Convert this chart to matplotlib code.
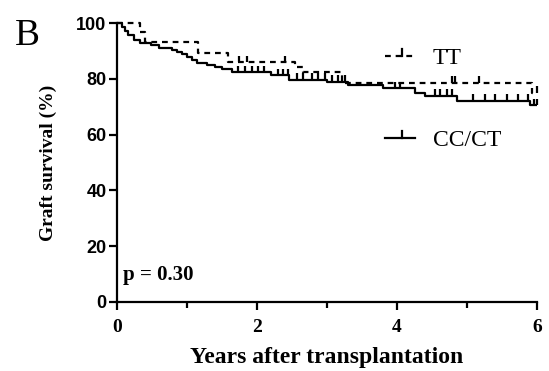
import numpy as np
import matplotlib
matplotlib.use("Agg")
import matplotlib.pyplot as plt
from matplotlib.ticker import MultipleLocator

# ---- data ----
cc_times = [0, 0.07, 0.12, 0.16, 0.24, 0.33, 0.48, 0.60, 0.79, 0.86, 0.93, 1.00, 1.07,
            1.14, 1.29, 1.40, 1.50, 1.64, 2.20, 2.45, 3.00, 3.30, 3.80, 4.25, 4.40,
            4.85, 5.90]
cc_surv = [100, 98.5, 97.0, 95.7, 94.0, 92.7, 92.0, 91.2, 90.4, 89.6, 88.8, 87.9, 86.8,
           85.8, 85.0, 84.2, 83.5, 82.3, 81.2, 79.6, 78.8, 77.8, 76.6, 75.0, 73.8,
           72.0, 70.5]
cc_censor = [1.73, 1.83, 1.93, 2.02, 2.10, 2.30, 2.37, 2.44, 2.57, 2.66, 2.79, 2.87,
             2.97, 3.07, 3.16, 3.26, 3.97, 4.04, 4.54, 4.61, 4.71, 4.79, 5.09, 5.26,
             5.40, 5.57, 5.73, 5.87, 5.95, 6.0]

tt_times = [0, 0.33, 0.40, 1.16, 1.59, 2.54, 2.66, 3.22, 5.93]
tt_surv = [100, 96.9, 93.3, 89.3, 85.9, 84.2, 82.4, 78.6, 75.0]
tt_censor = [1.74, 1.86, 2.40, 4.78, 4.83, 5.17, 6.0]

follow_up_end = 6.0
xticks_major = [0, 2, 4, 6]
yticks = [0, 20, 40, 60, 80, 100]
p_text = "p = 0.30"
series_names = ["TT", "CC/CT"]

SERIF = "Liberation Serif"
SANS = "Liberation Sans"

fig = plt.figure(figsize=(5.49, 3.71), dpi=100)
ax = fig.add_axes([117 / 549, 1 - 302 / 371, 420 / 549, 279 / 371])

lw = 1.6
tick_h = 2.4


def km(times, surv, censor, dashed):
    t = list(times) + [follow_up_end]
    s = list(surv) + [surv[-1]]
    ls = (0, (2.6, 2.2)) if dashed else "-"
    ax.step(t, s, where="post", color="black", lw=lw, linestyle=ls,
            solid_capstyle="butt", dash_capstyle="butt", clip_on=False)
    idx = np.searchsorted(np.array(times), np.array(censor), side="right") - 1
    ys = np.array(surv)[idx]
    ax.vlines(censor, ys, ys + tick_h, color="black", lw=lw, clip_on=False)


km(tt_times, tt_surv, tt_censor, True)
km(cc_times, cc_surv, cc_censor, False)

ax.set_xlim(0, 6)
ax.set_ylim(0, 100)
for side in ["top", "right"]:
    ax.spines[side].set_visible(False)
for side in ["left", "bottom"]:
    ax.spines[side].set_linewidth(1.6)

ax.set_xticks(xticks_major)
ax.xaxis.set_minor_locator(MultipleLocator(1))
ax.set_yticks(yticks)
ax.tick_params(axis="both", which="major", direction="out", length=6, width=1.6)
ax.tick_params(axis="x", which="minor", direction="out", length=4, width=1.6)
ax.tick_params(axis="y", pad=1.5)
ax.tick_params(axis="x", pad=6)

for lab in ax.get_yticklabels():
    lab.set_fontfamily(SANS)
    lab.set_fontweight("bold")
    lab.set_fontsize(13)
for lab in ax.get_xticklabels():
    lab.set_fontfamily(SERIF)
    lab.set_fontweight("bold")
    lab.set_fontsize(14)

ax.set_xlabel("Years after transplantation", fontfamily=SERIF, fontweight="bold",
              fontsize=17)
ax.set_ylabel("Graft survival (%)", fontfamily=SERIF, fontweight="bold",
              fontsize=14)
ax.xaxis.set_label_coords(0.5, -0.160)
ax.yaxis.set_label_coords(-0.143, 0.5)

ax.text(0.014, 0.06, p_text, transform=ax.transAxes, fontfamily=SERIF,
        fontweight="bold", fontsize=15, ha="left", va="bottom")

fig.text(15 / 549, 1 - 45 / 371, "B", fontfamily=SERIF, fontsize=27,
         ha="left", va="baseline")

# manual legend
leg_x0, leg_x1 = 0.638, 0.710
for name, yax, dashed in [(series_names[0], 0.882, True), (series_names[1], 0.588, False)]:
    ls = (0, (2.6, 2.2)) if dashed else "-"
    ax.plot([leg_x0, leg_x1], [yax, yax], transform=ax.transAxes, color="black",
            lw=lw, linestyle=ls, clip_on=False)
    xm = (leg_x0 + leg_x1) / 2 + 0.005
    ax.plot([xm, xm], [yax, yax + 0.025], transform=ax.transAxes, color="black",
            lw=lw, clip_on=False)
    ax.text(0.752, yax - 0.01, name, transform=ax.transAxes, fontfamily=SERIF,
            fontsize=17, ha="left", va="center")

fig.savefig("out.png", dpi=100)
